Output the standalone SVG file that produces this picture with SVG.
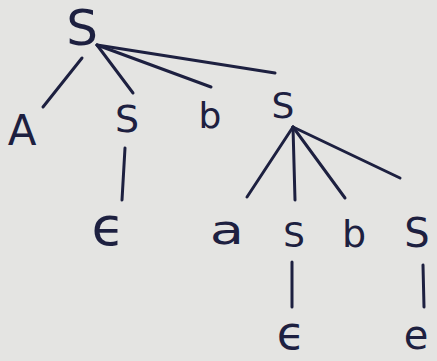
<svg xmlns="http://www.w3.org/2000/svg" width="437" height="361" viewBox="0 0 437 361">
<defs>
<style>
.bg{fill:#e4e4e2}
.t{font-family:"DejaVu Sans","Liberation Sans",sans-serif;fill:#1d2040;text-anchor:middle}
.e{stroke:#1d2040;stroke-width:3;stroke-linecap:round;fill:none}
</style>
</defs>
<rect class="bg" x="0" y="0" width="437" height="361"/>
<g id="connectors">
<line class="e" x1="82" y1="58" x2="43" y2="107"/>
<line class="e" x1="97" y1="45" x2="133" y2="93"/>
<line class="e" x1="97" y1="45" x2="211" y2="87"/>
<line class="e" x1="97" y1="45" x2="275" y2="73"/>
<line class="e" x1="125" y1="148" x2="122" y2="200"/>
<line class="e" x1="293" y1="127" x2="247" y2="197"/>
<line class="e" x1="293" y1="127" x2="295" y2="200"/>
<line class="e" x1="293" y1="127" x2="345" y2="198"/>
<line class="e" x1="293" y1="127" x2="400" y2="178"/>
<line class="e" x1="292" y1="262" x2="292" y2="307"/>
<line class="e" x1="423" y1="265" x2="424" y2="307"/>
</g>
<g id="root"><text class="t" x="82" y="45" font-size="50">S</text></g>
<g id="A"><text class="t" x="22" y="145" font-size="42">A</text></g>
<g id="S1"><text class="t" x="127" y="132" font-size="38">S</text></g>
<g id="b1"><text class="t" x="210" y="128" font-size="36">b</text></g>
<g id="S2"><text class="t" x="283" y="118" font-size="36">S</text></g>
<g id="eps1"><text class="t" x="108" y="245" font-size="54">ϵ</text></g>
<g id="a"><text class="t" x="227" y="244" font-size="40" transform="translate(227 0) scale(1.4 1) translate(-227 0)">a</text></g>
<g id="S3"><text class="t" x="294" y="247" font-size="34">S</text></g>
<g id="b2"><text class="t" x="354" y="247" font-size="38">b</text></g>
<g id="S4"><text class="t" x="417" y="247" font-size="40">S</text></g>
<g id="eps2"><text class="t" x="291" y="349" font-size="46">ϵ</text></g>
<g id="e"><text class="t" x="416" y="349" font-size="40">e</text></g>
</svg>
